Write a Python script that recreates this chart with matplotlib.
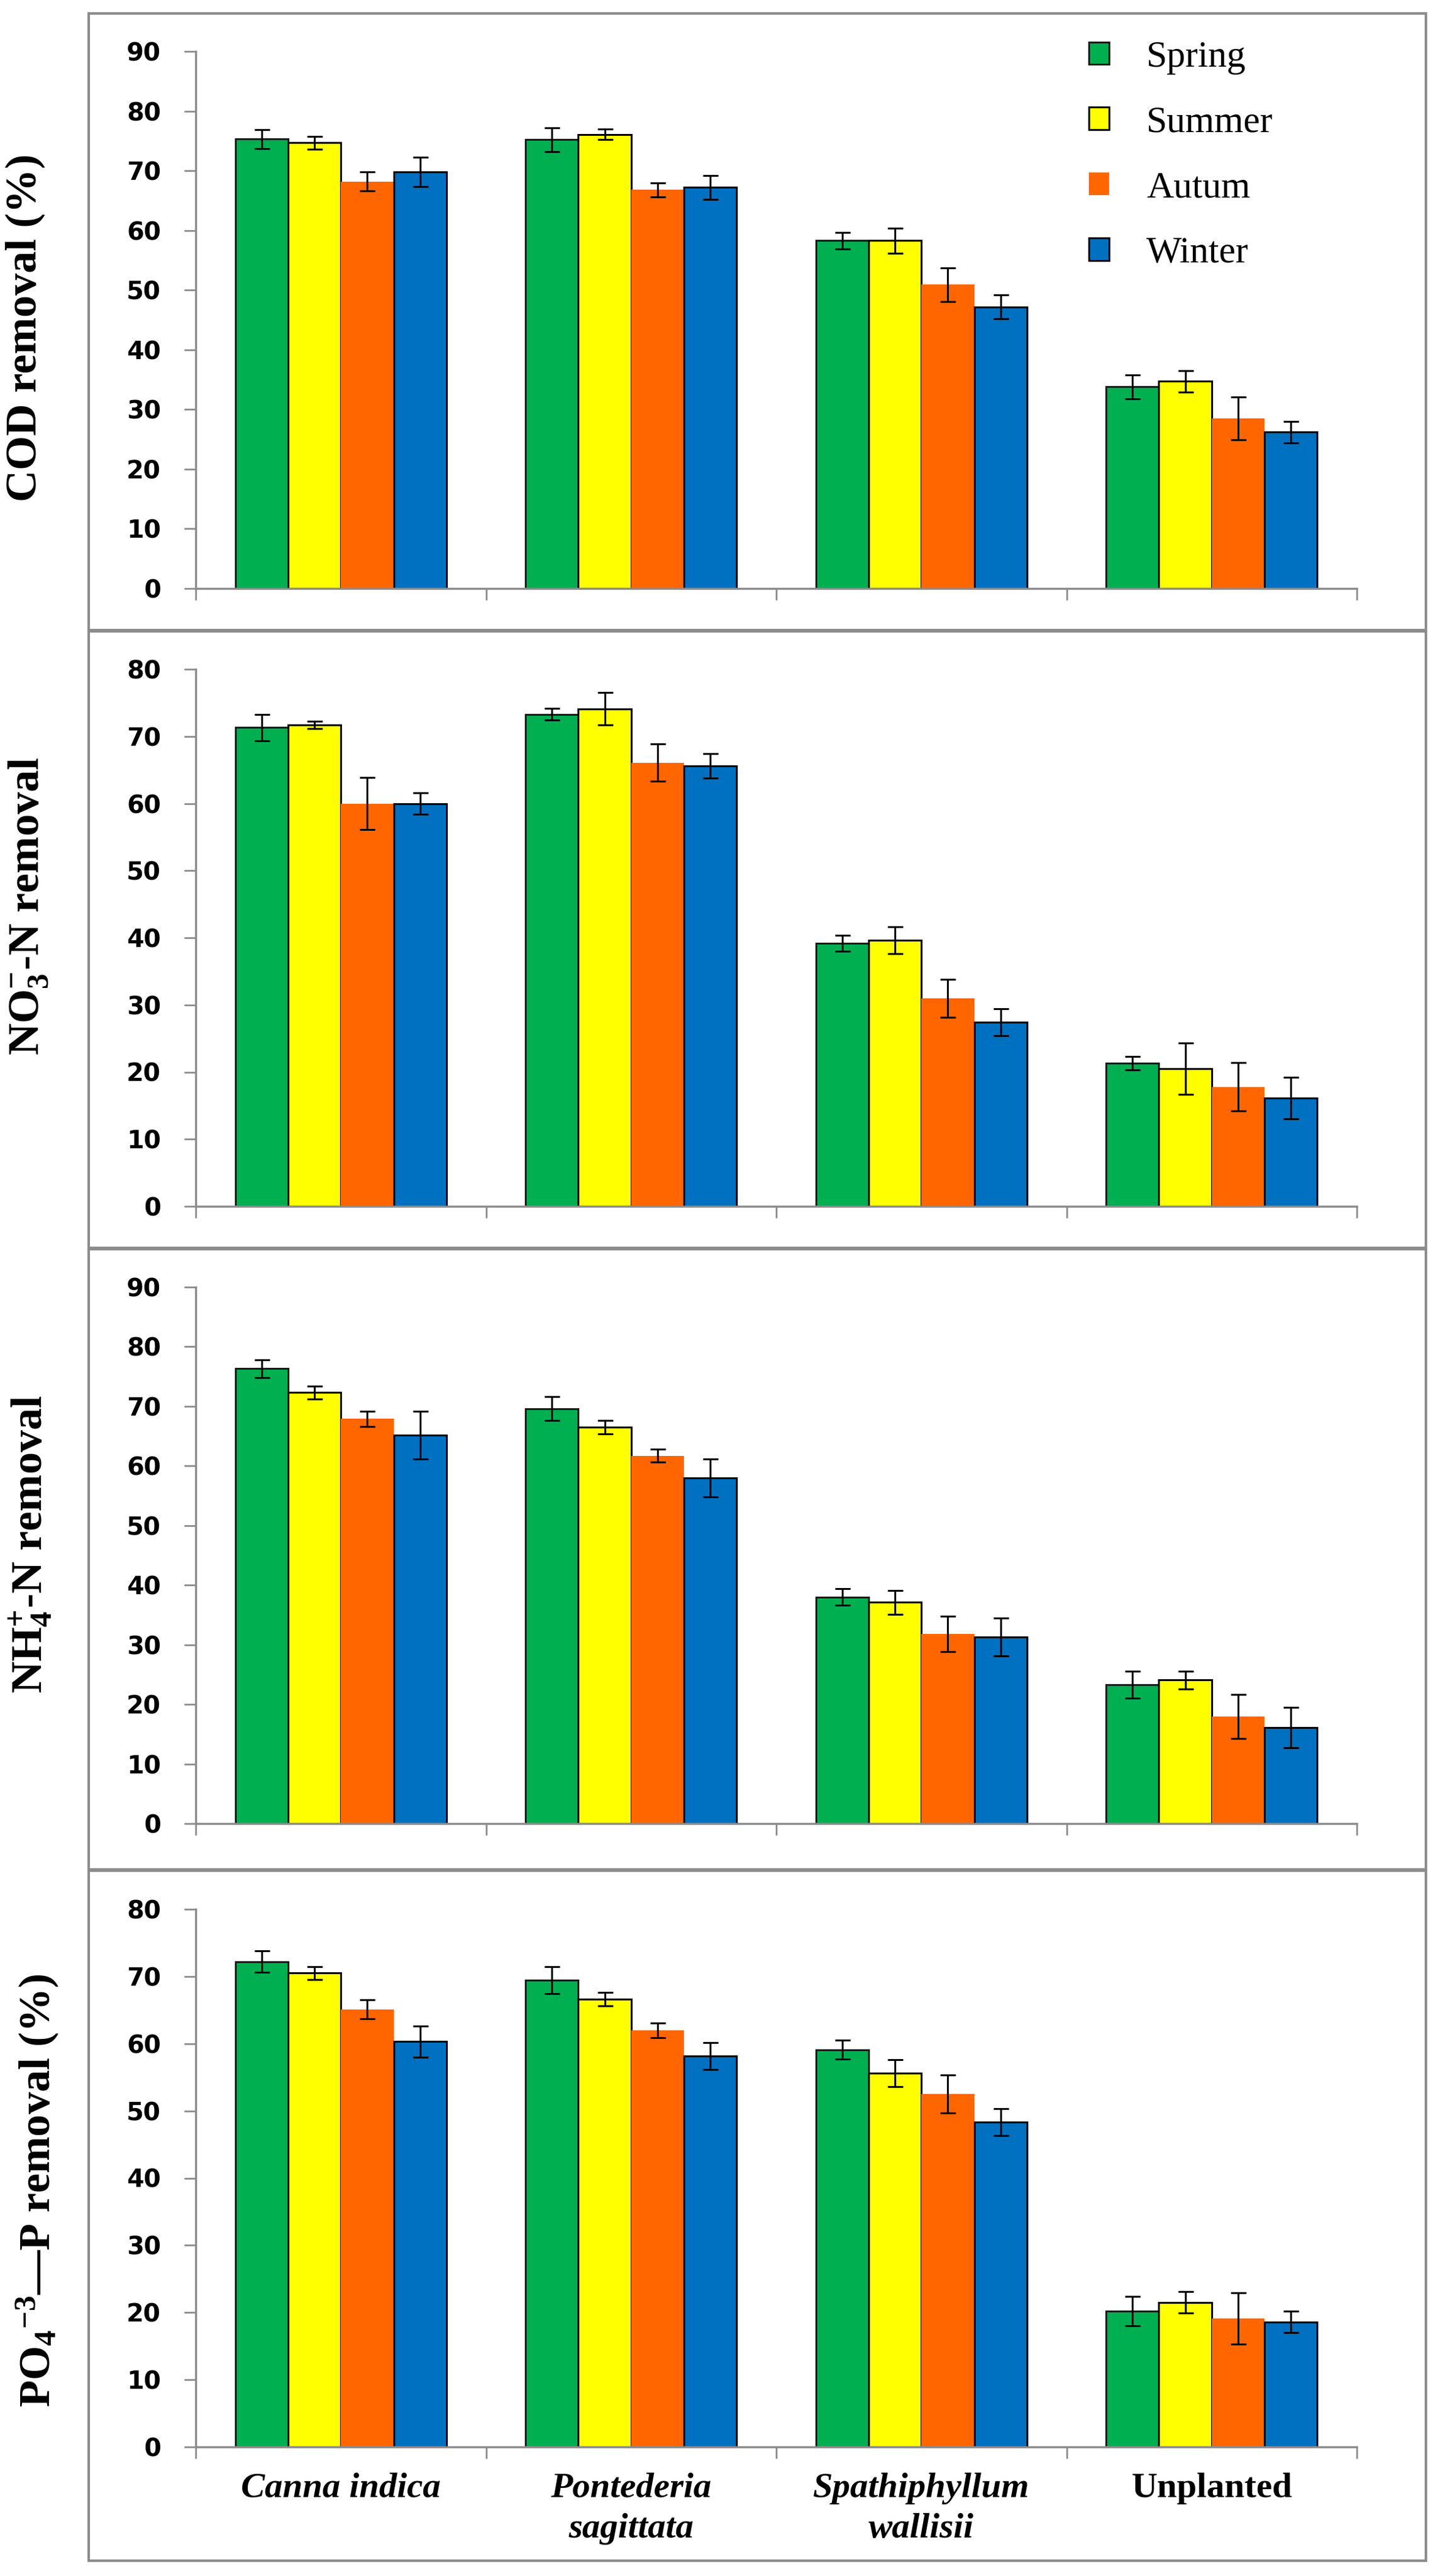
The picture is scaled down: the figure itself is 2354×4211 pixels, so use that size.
import matplotlib
matplotlib.use("Agg")
import matplotlib.pyplot as plt
from matplotlib.patches import Rectangle
import numpy as np

plt.rcParams['mathtext.fontset'] = 'custom'
plt.rcParams['mathtext.rm'] = 'Liberation Serif:bold'
plt.rcParams['mathtext.it'] = 'Liberation Serif:italic:bold'
plt.rcParams['mathtext.bf'] = 'Liberation Serif:bold'

# ---------------- data ----------------
categories = ['Canna indica', 'Pontederia\nsagittata', 'Spathiphyllum\nwallisii', 'Unplanted']
seasons = ['Spring', 'Summer', 'Autum', 'Winter']
colors = ['#00B050', '#FFFF00', '#FF6600', '#0070C0']
edgecolors = ['#1a1a1a', '#000000', 'none', '#000000']

# rows: seasons (Spring, Summer, Autum, Winter); columns: categories
cod_mean = [[75.3, 75.2, 58.3, 33.8],
            [74.7, 76.1, 58.3, 34.7],
            [68.2, 66.8, 50.9, 28.5],
            [69.8, 67.2, 47.2, 26.2]]
cod_err = [[1.6, 2.0, 1.4, 2.0],
           [1.1, 0.9, 2.1, 1.8],
           [1.6, 1.2, 2.8, 3.6],
           [2.5, 2.0, 2.0, 1.8]]

no3_mean = [[71.3, 73.3, 39.2, 21.3],
            [71.7, 74.1, 39.6, 20.5],
            [60.0, 66.1, 31.0, 17.8],
            [60.0, 65.6, 27.4, 16.1]]
no3_err = [[2.0, 0.9, 1.2, 1.0],
           [0.55, 2.4, 2.0, 3.8],
           [3.9, 2.8, 2.8, 3.6],
           [1.6, 1.8, 2.0, 3.1]]

nh4_mean = [[76.3, 69.6, 38.0, 23.3],
            [72.3, 66.5, 37.1, 24.1],
            [67.9, 61.7, 31.8, 18.0],
            [65.2, 58.0, 31.3, 16.1]]
nh4_err = [[1.5, 2.0, 1.4, 2.3],
           [1.1, 1.1, 2.0, 1.5],
           [1.3, 1.1, 3.0, 3.7],
           [4.0, 3.2, 3.2, 3.4]]

po4_mean = [[72.2, 69.4, 59.1, 20.2],
            [70.5, 66.6, 55.6, 21.5],
            [65.1, 62.0, 52.5, 19.1],
            [60.3, 58.2, 48.3, 18.6]]
po4_err = [[1.6, 2.0, 1.4, 2.2],
           [0.95, 1.0, 2.0, 1.6],
           [1.4, 1.1, 2.8, 3.8],
           [2.35, 2.0, 2.0, 1.6]]

ylabels = ['COD removal (%)',
           r'NO$_3^{-}$-N removal',
           r'NH$_4^{+}$-N removal',
           r'PO$_4{}^{-3}$—P removal (%)']
ymaxes = [90, 80, 90, 80]

# ---------------- layout (pixels) ----------------
W, H = 2354, 4211
fig = plt.figure(figsize=(W / 100, H / 100), dpi=100)

ax_left, ax_right = 320, 2218
ax_tb = [(84, 962), (1094, 1972), (2104, 2981), (3121, 4000)]
box_tb = [(22, 1030), (1032, 2040), (2042, 3056), (3058, 4186)]
box_lr = (145, 2331)
ylab_pos = [(41, 536), (47, 1481), (50, 2524), (61, 3581)]

GRAY = '#8c8c8c'
means = [cod_mean, no3_mean, nh4_mean, po4_mean]
errs = [cod_err, no3_err, nh4_err, po4_err]

bw = 0.182
x = np.arange(len(categories))
offsets = (np.arange(4) - 1.5) * bw

legend_handles = None
for p in range(4):
    top, bot = ax_tb[p]
    ax = fig.add_axes([ax_left / W, 1 - bot / H, (ax_right - ax_left) / W, (bot - top) / H])
    handles = []
    for s in range(4):
        h = ax.bar(x + offsets[s], means[p][s], width=bw, color=colors[s],
                   edgecolor=edgecolors[s], linewidth=2.2, label=seasons[s], zorder=2)
        handles.append(h)
    for s in range(4):
        ax.errorbar(x + offsets[s], means[p][s], yerr=errs[p][s], fmt='none',
                    ecolor='black', elinewidth=2.2, capsize=9, capthick=2.2, zorder=3)
    if p == 0:
        legend_handles = handles
    ax.set_xlim(-0.5, 3.5)
    ax.set_ylim(0, ymaxes[p])
    ax.set_yticks(np.arange(0, ymaxes[p] + 1, 10))
    for sp in ['top', 'right']:
        ax.spines[sp].set_visible(False)
    for sp in ['left', 'bottom']:
        ax.spines[sp].set_color(GRAY)
        ax.spines[sp].set_linewidth(2.5)
    ax.tick_params(axis='y', length=14, width=2, color=GRAY, pad=27, labelsize=29)
    for lab in ax.get_yticklabels():
        lab.set_fontfamily('DejaVu Sans')
        lab.set_fontweight('bold')
    ax.set_xticks(x)
    ax.set_xticks(np.arange(-0.5, 4, 1.0), minor=True)
    ax.tick_params(axis='x', which='major', length=0, pad=30)
    ax.tick_params(axis='x', which='minor', length=14, width=2, color=GRAY)
    if p == 3:
        ax.set_xticklabels(categories, fontsize=42, fontfamily='Liberation Serif',
                           fontweight='bold', linespacing=1.35)
        for i, lab in enumerate(ax.get_xticklabels()):
            if i < 3:
                lab.set_fontstyle('italic')
    else:
        ax.set_xticklabels([])
    fig.text(ylab_pos[p][0] / W, 1 - ylab_pos[p][1] / H, ylabels[p], rotation=90,
             ha='center', va='center', fontsize=52, fontfamily='Liberation Serif',
             fontweight='bold')

    bt, bb = box_tb[p]
    fig.add_artist(Rectangle((box_lr[0] / W, 1 - bb / H), (box_lr[1] - box_lr[0]) / W,
                             (bb - bt) / H, transform=fig.transFigure, fill=False,
                             edgecolor=GRAY, linewidth=3))

fig.legend(handles=legend_handles, labels=seasons, loc='upper left',
           bbox_to_anchor=(1780 / W, 1 - 66 / H), frameon=False,
           prop={'family': 'Liberation Serif', 'size': 44},
           handlelength=0.54, handleheight=0.54, handletextpad=1.0,
           labelspacing=0.84, borderpad=0, borderaxespad=0)

fig.savefig('out.png', dpi=100, facecolor='white')
